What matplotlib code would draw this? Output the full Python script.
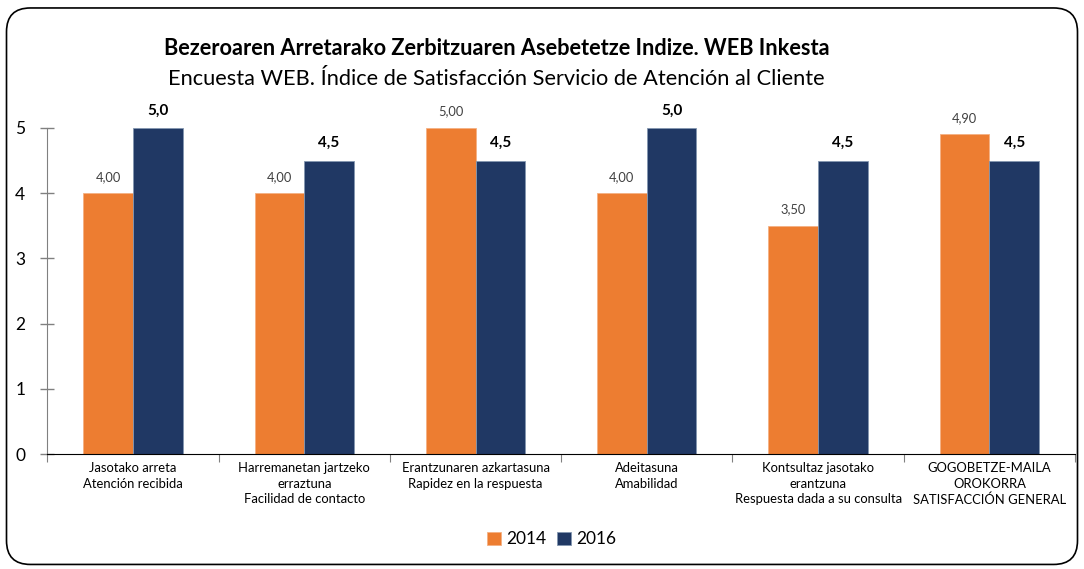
import numpy as np
import matplotlib.pyplot as plt
from matplotlib.patches import FancyBboxPatch

categories = ['Jasotako arreta\nAtención recibida',
              'Harremanetan jartzeko\nerraztuna\nFacilidad de contacto',
              'Erantzunaren azkartasuna\nRapidez en la respuesta',
              'Adeitasuna\nAmabilidad',
              'Kontsultaz jasotako\nerantzuna\nRespuesta dada a su consulta',
              'GOGOBETZE-MAILA\nOROKORRA\nSATISFACCIÓN GENERAL']
v2014 = [4.00, 4.00, 5.00, 4.00, 3.50, 4.90]
v2016 = [5.0, 4.5, 4.5, 5.0, 4.5, 4.5]

plt.rcParams['font.family'] = ['Lato', 'DejaVu Sans']

fig = plt.figure(figsize=(10.84, 5.69), dpi=100)
frame = FancyBboxPatch((0.006, 0.008), 0.988, 0.978,
                       boxstyle='round,pad=0,rounding_size=0.022',
                       transform=fig.transFigure, fc='white',
                       ec='black', lw=1.2, mutation_aspect=1.9, zorder=-5)
fig.patches.append(frame)
ax = fig.add_axes([0.0437, 0.2021, 0.948, 0.573])
ax.set_facecolor('none')

x = np.arange(len(categories))
w = 0.29
b1 = ax.bar(x - w / 2, v2014, w, color='#ED7D31', edgecolor='#F4B183', lw=0.6, label='2014')
b2 = ax.bar(x + w / 2, v2016, w, color='#203864', edgecolor='#8497B0', lw=0.6, label='2016')

for xi, v in zip(x, v2014):
    ax.text(xi - w / 2, v + 0.16, f'{v:.2f}'.replace('.', ','), ha='center', va='bottom',
            fontsize=9.3, color='#404040')
for xi, v in zip(x, v2016):
    ax.text(xi + w / 2, v + 0.16, f'{v:.1f}'.replace('.', ','), ha='center', va='bottom',
            fontsize=11, fontweight='bold', color='black')

ax.set_xlim(-0.5, len(categories) - 0.5)
ax.set_ylim(0, 5)
ax.set_yticks([0, 1, 2, 3, 4, 5])
ax.tick_params(axis='y', direction='inout', length=10, width=1, color='#808080',
               labelsize=12.5, pad=11)
ax.set_xticks(np.arange(len(categories) + 1) - 0.5)
ax.set_xticklabels([])
ax.set_xticks(x, minor=True)
ax.set_xticklabels(categories, minor=True, fontsize=9.4, linespacing=1.35)
ax.tick_params(axis='x', which='major', direction='out', length=6, color='#808080')
ax.tick_params(axis='x', which='minor', length=0, pad=6)
for s in ['top', 'right']:
    ax.spines[s].set_visible(False)
ax.spines['left'].set_color('#808080')
ax.spines['bottom'].set_color('black')

fig.text(0.458, 0.915, 'Bezeroaren Arretarako Zerbitzuaren Asebetetze Indize. WEB Inkesta',
         ha='center', va='center', fontsize=15.7, fontweight='bold')
fig.text(0.458, 0.862, 'Encuesta WEB. Índice de Satisfacción Servicio de Atención al Cliente',
         ha='center', va='center', fontsize=15.7)

fig.legend(handles=[b1, b2], loc='center', bbox_to_anchor=(0.509, 0.052), ncol=2,
           frameon=False, fontsize=12.5, handlelength=0.8, handleheight=0.8,
           handletextpad=0.3, columnspacing=0.6)

fig.savefig('out.png', dpi=100)
